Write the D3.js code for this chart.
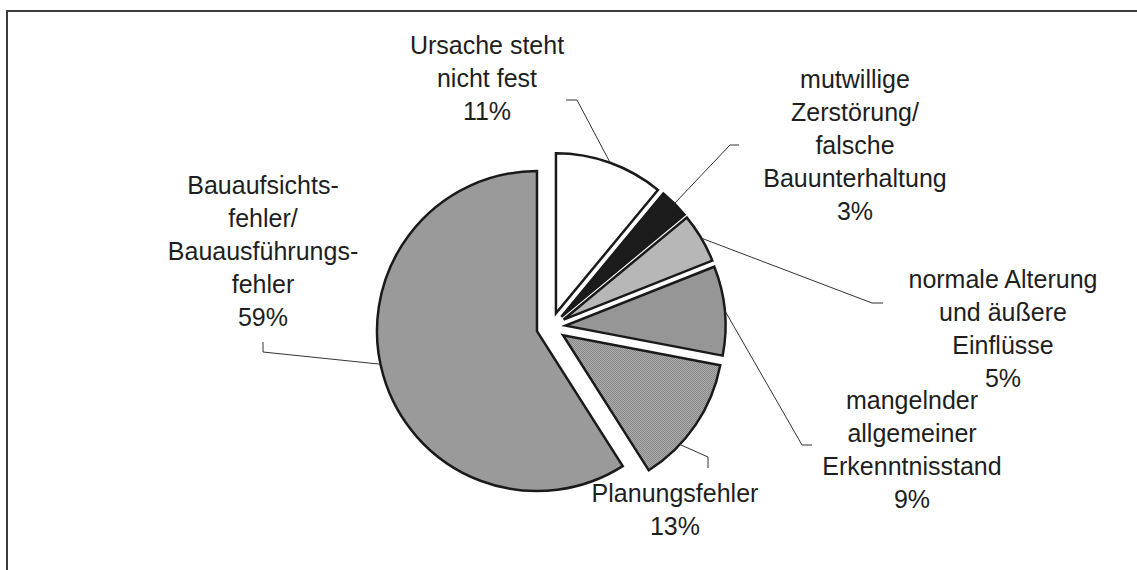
<!DOCTYPE html>
<html>
<head>
<meta charset="utf-8">
<script src="https://cdn.jsdelivr.net/npm/d3@7"></script>
<style>
  body { margin: 0; background: #fff; }
  svg { display: block; }
</style>
</head>
<body>
<div id="chart"></div>
<script>
// data
const categories = [
  "Ursache steht nicht fest",
  "mutwillige Zerstörung/ falsche Bauunterhaltung",
  "normale Alterung und äußere Einflüsse",
  "mangelnder allgemeiner Erkenntnisstand",
  "Planungsfehler",
  "Bauaufsichtsfehler/ Bauausführungsfehler"
];
const values = [11, 3, 5, 9, 13, 59];
const labelLines = [
  ["Ursache steht", "nicht fest", "11%"],
  ["mutwillige", "Zerstörung/", "falsche", "Bauunterhaltung", "3%"],
  ["normale Alterung", "und äußere", "Einflüsse", "5%"],
  ["mangelnder", "allgemeiner", "Erkenntnisstand", "9%"],
  ["Planungsfehler", "13%"],
  ["Bauaufsichts-", "fehler/", "Bauausführungs-", "fehler", "59%"]
];
const fills = ["#ffffff", "#1c1c1c", "url(#pLight)", "url(#pMid)", "url(#pCheck)", "#9a9a9a"];

// layout: label anchor (center x, first line y), leader elbow + end, where on the arc the leader starts
const labelLayout = [
  { cx: 487, y0: 45,  elbow: [577, 100], end: [566, 100], at: 0.5 },
  { cx: 855, y0: 79,  elbow: [730, 145], end: [739, 145], at: 0.5 },
  { cx: 1003, y0: 279, elbow: [872, 303], end: [883, 303], at: 0.5 },
  { cx: 912, y0: 400, elbow: [802, 445], end: [812, 445], at: 0.5 },
  { cx: 675, y0: 493, elbow: [708, 457], end: [708, 468], at: 0.69 },
  { cx: 263, y0: 185, elbow: [263, 352], end: [263, 342], at: 0.52 }
];

const width = 1137, height = 570;
const cx = 551, cy = 327, radius = 160, explode = 14.6;
const fontSize = 25, lineGap = 33;

const svg = d3.select("#chart").append("svg")
  .attr("width", width).attr("height", height);

const defs = svg.append("defs");
function checker(id, a, b) {
  const p = defs.append("pattern").attr("id", id)
    .attr("width", 2).attr("height", 2).attr("patternUnits", "userSpaceOnUse");
  p.append("rect").attr("width", 2).attr("height", 2).attr("fill", a);
  p.append("rect").attr("width", 1).attr("height", 1).attr("fill", b);
  p.append("rect").attr("x", 1).attr("y", 1).attr("width", 1).attr("height", 1).attr("fill", b);
}
checker("pLight", "#dedede", "#909090");
checker("pMid", "#8a8a8a", "#a2a2a2");
checker("pCheck", "#bdbdbd", "#787878");

// chart area frame
svg.append("rect")
  .attr("x", 7).attr("y", 11)
  .attr("width", width + 20).attr("height", height + 20)
  .attr("fill", "none").attr("stroke", "#3c3c3c").attr("stroke-width", 2);

const pie = d3.pie().sort(null).value(d => d);
const arcs = pie(values);
const arc = d3.arc().innerRadius(0).outerRadius(radius);

const offset = a => {
  const m = (a.startAngle + a.endAngle) / 2;
  return [cx + explode * Math.sin(m), cy - explode * Math.cos(m)];
};

const g = svg.append("g");
g.selectAll("path.slice")
  .data(arcs)
  .join("path")
  .attr("class", "slice")
  .attr("transform", d => `translate(${offset(d)})`)
  .attr("d", arc)
  .attr("fill", (d, i) => fills[i])
  .attr("stroke", "#1a1a1a")
  .attr("stroke-width", 2.5)
  .attr("stroke-linejoin", "miter");

// leader lines
const leaders = svg.append("g")
  .attr("fill", "none").attr("stroke", "#333").attr("stroke-width", 1);
arcs.forEach((a, i) => {
  const L = labelLayout[i];
  const [ox, oy] = offset(a);
  const ang = a.startAngle + (a.endAngle - a.startAngle) * L.at;
  const p0 = [ox + radius * Math.sin(ang), oy - radius * Math.cos(ang)];
  leaders.append("path").attr("d", d3.line()([p0, L.elbow, L.end]));
});

// labels
const labels = svg.append("g")
  .attr("font-family", "Liberation Sans, Arial, sans-serif")
  .attr("font-size", fontSize)
  .attr("fill", "#1e1e1e")
  .attr("text-anchor", "middle");
labelLines.forEach((lines, i) => {
  const L = labelLayout[i];
  const t = labels.append("text");
  lines.forEach((s, j) => {
    t.append("tspan")
      .attr("x", L.cx)
      .attr("y", L.y0 + j * lineGap + fontSize * 0.36)
      .text(s);
  });
});
</script>
</body>
</html>
